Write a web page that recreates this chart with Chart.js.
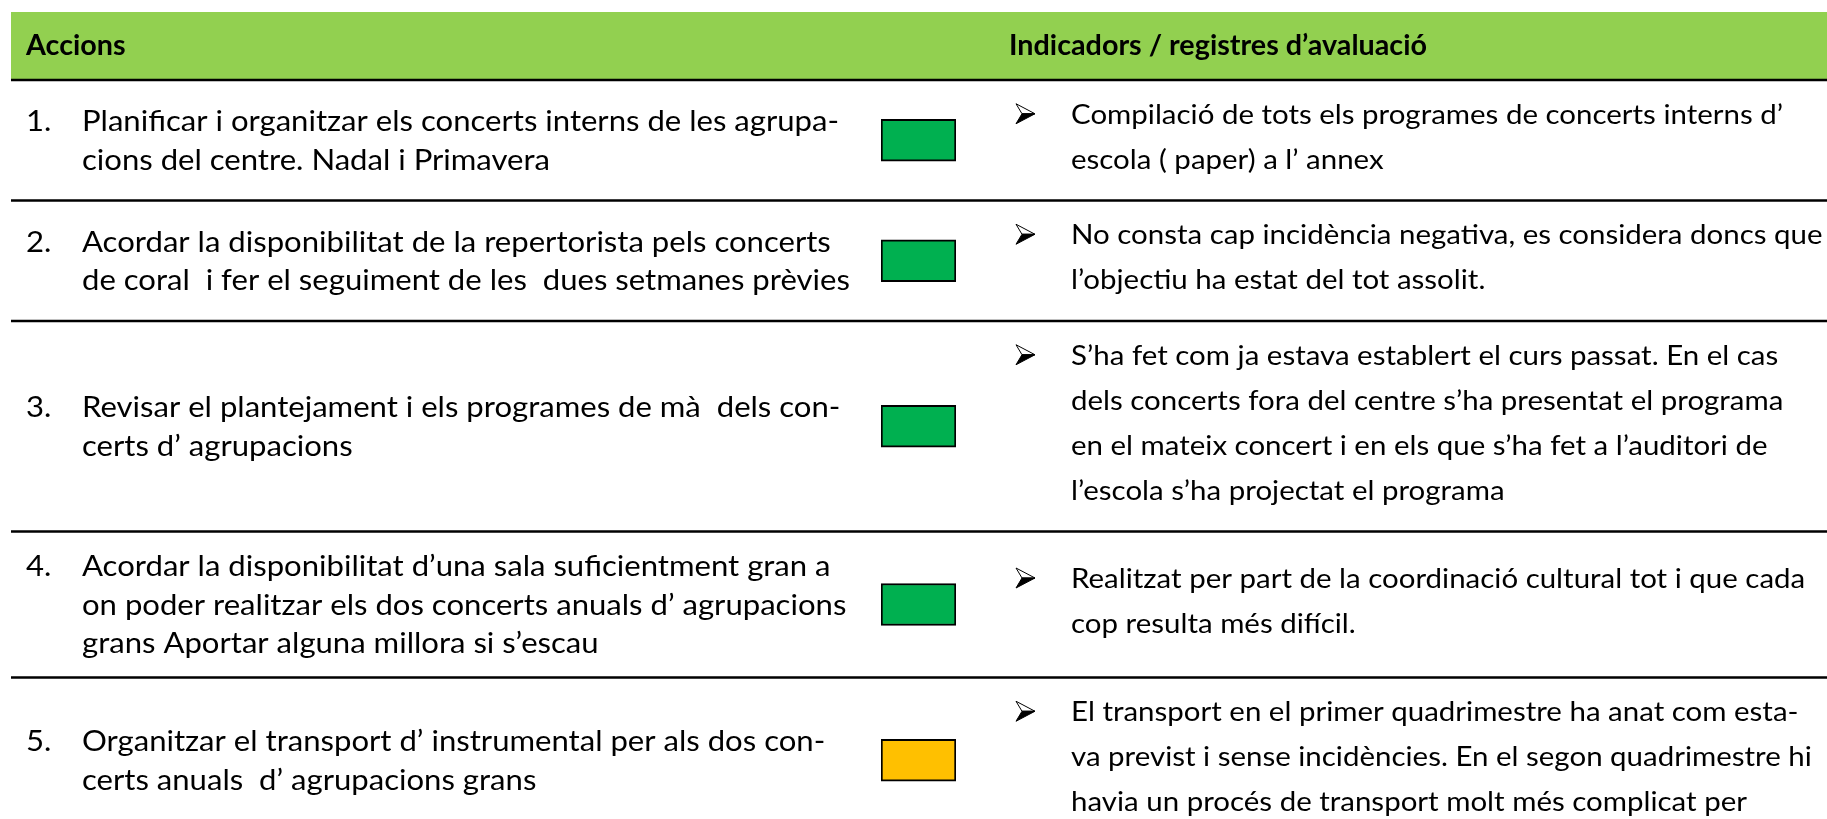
<!DOCTYPE html>
<html lang="ca">
<head>
<meta charset="utf-8">
<title>Accions i indicadors d'avaluació</title>
<script src="https://cdn.jsdelivr.net/npm/chart.js@4.4.1/dist/chart.umd.min.js"></script>
<style>
  html, body { margin: 0; padding: 0; background: #fff; overflow: hidden; }
  canvas { display: block; }
</style>
</head>
<body>
<canvas id="table" width="1827" height="819"></canvas>
<script>
// Table content
const headers = ['Accions', 'Indicadors / registres d’avaluació'];
const rowNumbers = ['1.', '2.', '3.', '4.', '5.'];
const actions = [
  ['Planificar i organitzar els concerts interns de les agrupa-', 'cions del centre. Nadal i Primavera'],
  ['Acordar la disponibilitat de la repertorista pels concerts', 'de coral  i fer el seguiment de les  dues setmanes prèvies'],
  ['Revisar el plantejament i els programes de mà  dels con-', 'certs d’ agrupacions'],
  ['Acordar la disponibilitat d’una sala suficientment gran a', 'on poder realitzar els dos concerts anuals d’ agrupacions', 'grans Aportar alguna millora si s’escau'],
  ['Organitzar el transport d’ instrumental per als dos con-', 'certs anuals  d’ agrupacions grans']
];
const indicators = [
  ['Compilació de tots els programes de concerts interns d’', 'escola ( paper) a l’ annex'],
  ['No consta cap incidència negativa, es considera doncs que', 'l’objectiu ha estat del tot assolit.'],
  ['S’ha fet com ja estava establert el curs passat. En el cas', 'dels concerts fora del centre s’ha presentat el programa', 'en el mateix concert i en els que s’ha fet a l’auditori de', 'l’escola s’ha projectat el programa'],
  ['Realitzat per part de la coordinació cultural tot i que cada', 'cop resulta més difícil.'],
  ['El transport en el primer quadrimestre ha anat com esta-', 'va previst i sense incidències. En el segon quadrimestre hi', 'havia un procés de transport molt més complicat per']
];
const status = ['assolit', 'assolit', 'assolit', 'assolit', 'en curs'];

const statusColors = { 'assolit': '#00B050', 'en curs': '#FFC000' };
const W = 1827, H = 819;
const layout = {
  left: 11, headTop: 12, headBottom: 80, headBaseline: 55,
  numX: 26, actionX: 82, headRightX: 1009, arrowX: 1016, indicatorX: 1071,
  markLeft: 881, markRight: 956, markHeight: 42,
  actionLine: 38.5, indicatorLine: 45, cellPad: 30.5,
  headSize: 28, headWidth: 418,
  actionSize: 29.5, actionWidth: 757,
  indicatorSize: 27, indicatorWidth: 712
};

// row heights follow the tallest cell, like the word-processor table
const rowEdges = [layout.headBottom];
actions.forEach((lines, i) => {
  const h = Math.max(lines.length * layout.actionLine, indicators[i].length * layout.indicatorLine) + layout.cellPad;
  rowEdges.push(rowEdges[i] + h);
});
const rowMids = rowNumbers.map((_, i) => (rowEdges[i] + rowEdges[i + 1]) / 2);

// horizontal squeeze so a reference line keeps its measured width
function fitScale(ctx, font, sample, width) {
  ctx.font = font;
  return width / ctx.measureText(sample).width;
}

function drawText(ctx, str, x, y, sx) {
  ctx.save();
  ctx.translate(x, y);
  ctx.scale(sx, 1);
  ctx.fillText(str, 0, 0);
  ctx.restore();
}

function drawArrow(ctx, x, cy) {
  ctx.save();
  ctx.translate(x, cy);
  ctx.lineWidth = 1;
  ctx.strokeStyle = '#000';
  ctx.beginPath();
  ctx.moveTo(0, -10); ctx.lineTo(19, 0); ctx.lineTo(6, 0); ctx.closePath();
  ctx.fillStyle = '#fff'; ctx.fill(); ctx.stroke();
  ctx.beginPath();
  ctx.moveTo(6, 0); ctx.lineTo(19, 0); ctx.lineTo(0, 10); ctx.closePath();
  ctx.fillStyle = '#000'; ctx.fill(); ctx.stroke();
  ctx.restore();
}

const tablePlugin = {
  id: 'table',
  beforeDatasetsDraw(chart) {
    const ctx = chart.ctx;
    ctx.save();
    ctx.fillStyle = '#92D050';
    ctx.fillRect(layout.left, layout.headTop, W - layout.left, layout.headBottom - layout.headTop);
    ctx.strokeStyle = '#000';
    ctx.lineWidth = 2.5;
    rowEdges.forEach(y => {
      ctx.beginPath();
      ctx.moveTo(layout.left, y);
      ctx.lineTo(W, y);
      ctx.stroke();
    });
    ctx.restore();
  },
  afterDatasetsDraw(chart) {
    const ctx = chart.ctx;
    ctx.save();
    ctx.fillStyle = '#000';
    ctx.textBaseline = 'alphabetic';

    const headFont = `bold ${layout.headSize}px Lato`;
    const actionFont = `${layout.actionSize}px Lato`;
    const indicatorFont = `${layout.indicatorSize}px Lato`;
    const headSx = fitScale(ctx, headFont, headers[1], layout.headWidth);
    const actionSx = fitScale(ctx, actionFont, actions[0][0], layout.actionWidth);
    const indicatorSx = fitScale(ctx, indicatorFont, indicators[0][0], layout.indicatorWidth);

    ctx.font = headFont;
    drawText(ctx, headers[0], layout.numX, layout.headBaseline, headSx);
    drawText(ctx, headers[1], layout.headRightX, layout.headBaseline, headSx);

    rowMids.forEach((mid, i) => {
      ctx.font = actionFont;
      const left = actions[i];
      left.forEach((line, k) => {
        const y = mid + (k - (left.length - 1) / 2) * layout.actionLine + 10;
        if (k === 0) drawText(ctx, rowNumbers[i], layout.numX, y, actionSx);
        drawText(ctx, line, layout.actionX, y, actionSx);
      });
      ctx.font = indicatorFont;
      const right = indicators[i];
      right.forEach((line, k) => {
        const y = mid + (k - (right.length - 1) / 2) * layout.indicatorLine + 6;
        if (k === 0) drawArrow(ctx, layout.arrowX, y - 10);
        drawText(ctx, line, layout.indicatorX, y, indicatorSx);
      });
    });
    ctx.restore();
  }
};

new Chart(document.getElementById('table'), {
  type: 'bar',
  data: {
    labels: rowNumbers,
    datasets: [{
      label: 'Estat',
      data: rowMids.map(y => ({ x: [0, 1], y })),
      backgroundColor: status.map(s => statusColors[s]),
      borderColor: '#000',
      borderWidth: 2,
      borderSkipped: false,
      barThickness: layout.markHeight
    }]
  },
  options: {
    indexAxis: 'y',
    responsive: false,
    animation: false,
    devicePixelRatio: 1,
    layout: { padding: { left: layout.markLeft, right: W - layout.markRight, top: 0, bottom: 0 } },
    scales: {
      x: { type: 'linear', min: 0, max: 1, display: false, offset: false },
      y: { type: 'linear', min: 0, max: H, reverse: true, display: false, offset: false }
    },
    plugins: { legend: { display: false }, tooltip: { enabled: false } }
  },
  plugins: [tablePlugin]
});
</script>
</body>
</html>
